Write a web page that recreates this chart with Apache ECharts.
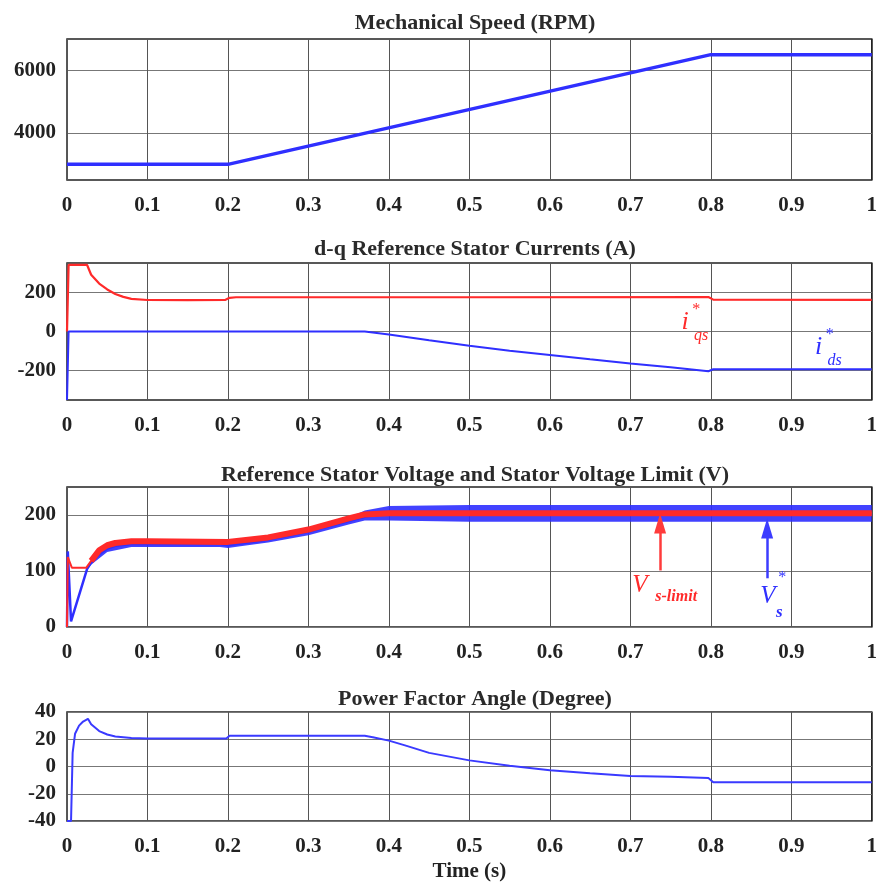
<!DOCTYPE html>
<html><head><meta charset="utf-8">
<script src="https://cdn.jsdelivr.net/npm/echarts@6/dist/echarts.min.js"></script>
<style>html,body{margin:0;padding:0;background:#fff}#c{width:880px;height:885px}</style>
</head><body><div id="c"></div>
<script>
// ---------- data ----------
const titles = ['Mechanical Speed (RPM)', 'd-q Reference Stator Currents (A)',
  'Reference Stator Voltage and Stator Voltage Limit (V)', 'Power Factor Angle (Degree)'];
const xTickLabels = ['0','0.1','0.2','0.3','0.4','0.5','0.6','0.7','0.8','0.9','1'];
const ySpeedTicks = [4000, 6000];
const yCurTicks = [-200, 0, 200];
const yVoltTicks = [0, 100, 200];
const yPfTicks = [-40, -20, 0, 20, 40];

const speedT = [0, 0.2, 0.8, 1];
const speedV = [3000, 3000, 6500, 6500];

const iqsT = [0, 0.002, 0.025, 0.03, 0.04, 0.05, 0.06, 0.07, 0.08, 0.1, 0.15, 0.197, 0.202, 0.21, 0.5, 0.797, 0.803, 1];
const iqsV = [0, 340, 340, 290, 245, 215, 192, 177, 167, 161, 160, 162, 172, 175, 175, 176, 163, 162];

const idsT = [0, 0.002, 0.37, 0.4, 0.45, 0.5, 0.55, 0.6, 0.65, 0.7, 0.75, 0.797, 0.803, 1];
const idsV = [-350, 0, 0, -15, -45, -73, -98, -120, -142, -163, -183, -203, -193, -193];

const vsT = [0, 0.001, 0.005, 0.025, 0.03, 0.04, 0.05, 0.06, 0.08, 0.1, 0.19, 0.2, 0.22, 0.25, 0.3, 0.35, 0.37, 0.4, 1];
const vsV = [0, 135, 10, 104, 115, 130, 140, 145, 148, 148, 148, 146, 150, 156, 170, 189, 197, 203, 203];
// envelope of the noisy V*s trace
const vsBandT  = [0.025, 0.03, 0.05, 0.08, 0.1, 0.19, 0.2, 0.22, 0.25, 0.3, 0.35, 0.37, 0.4, 0.5, 1];
const vsBandHi = [106, 119, 146, 153, 153, 153, 151, 155, 161, 176, 195, 208, 216, 218, 218];
const vsBandLo = [102, 111, 134, 143, 143, 143, 141, 145, 151, 164, 183, 190, 190, 188, 188];

const vlimT = [0, 0.001, 0.006, 0.024, 0.03, 0.04, 0.05, 0.06, 0.08, 0.1, 0.2, 0.25, 0.3, 0.35, 0.37, 0.4, 1];
const vlimV = [0, 125, 106, 106, 118, 137, 146, 150, 153, 153, 152, 160, 174, 194, 201, 203, 203];

const pfT = [0, 0.005, 0.007, 0.01, 0.015, 0.02, 0.026, 0.03, 0.04, 0.05, 0.06, 0.08, 0.1, 0.198, 0.202, 0.37, 0.38, 0.4, 0.42, 0.45, 0.5, 0.55, 0.6, 0.65, 0.7, 0.75, 0.797, 0.803, 1];
const pfV = [-40, -40, 10, 24, 30, 33, 35, 31, 26, 23.5, 22, 21, 20.5, 20.5, 22.5, 22.5, 21.5, 19, 15.5, 10, 4.5, 0.5, -2.7, -5, -7, -7.5, -8.5, -11.5, -11.5];

// ---------- helpers ----------
const zip = (t, v) => t.map((x, i) => [x, v[i]]);
const FONT = '"Liberation Serif", "Times New Roman", serif';
const RED = '#ff2a2a', BLUE = '#2f2fff';
const grids = [
  {top: 39, height: 141},
  {top: 263, height: 137},
  {top: 487, height: 140},
  {top: 712, height: 109}
];
const titleTops = [7, 233, 459, 683];

function xAxis(i) {
  return {
    type: 'value', gridIndex: i, min: 0, max: 1, interval: 0.1,
    axisLine: {show: false},
    axisTick: {show: false},
    splitLine: {show: true, lineStyle: {color: '#555', width: 1}},
    axisLabel: {
      margin: 15, color: '#222', fontFamily: FONT, fontWeight: 'bold', fontSize: 21,
      formatter: v => xTickLabels[Math.round(v * 10)]
    },
    name: i === 3 ? 'Time (s)' : '',
    nameLocation: 'middle', nameGap: 40,
    nameTextStyle: {color: '#222', fontFamily: FONT, fontWeight: 'bold', fontSize: 21}
  };
}
function yAxis(i, min, max, ticks) {
  return {
    type: 'value', gridIndex: i, min: min, max: max,
    axisLine: {show: false},
    axisTick: {show: false, customValues: ticks},
    splitLine: {show: true, lineStyle: {color: '#777', width: 1.2}},
    axisLabel: {
      customValues: ticks, margin: 11, color: '#222', fontFamily: FONT, fontWeight: 'bold', fontSize: 21,
      formatter: v => String(v)
    }
  };
}
function txt(coord, text, color, size, weight) {
  return {
    coord: coord, symbol: 'circle', symbolSize: 1, itemStyle: {color: 'rgba(0,0,0,0)'},
    label: {show: true, position: 'inside', formatter: text, color: color,
      fontFamily: FONT, fontStyle: 'italic', fontWeight: weight || 'normal', fontSize: size}
  };
}
function arrow(t, v0, v1, color) {
  return {silent: true, symbol: ['none', 'triangle'], symbolSize: [12, 20],
    label: {show: false}, lineStyle: {color: color, width: 2.5, type: 'solid'},
    data: [[{coord: [t, v0]}, {coord: [t, v1]}]]};
}

const option = {
  animation: false,
  backgroundColor: '#fff',
  title: titles.map((t, i) => ({
    text: t, left: 470, top: titleTops[i], textAlign: 'center',
    textStyle: {color: '#2a2a2a', fontFamily: FONT, fontWeight: 'bold', fontSize: 22}
  })),
  grid: grids.map(g => ({left: 67, right: 6, top: g.top, height: g.height,
    show: true, borderColor: '#222', borderWidth: 1.5, backgroundColor: 'transparent'})),
  xAxis: [0, 1, 2, 3].map(xAxis),
  yAxis: [
    yAxis(0, 2500, 7000, ySpeedTicks),
    yAxis(1, -350, 350, yCurTicks),
    yAxis(2, 0, 250, yVoltTicks),
    yAxis(3, -40, 40, yPfTicks)
  ],
  series: [
    {type: 'line', xAxisIndex: 0, yAxisIndex: 0, data: zip(speedT, speedV), showSymbol: false,
      lineStyle: {color: BLUE, width: 3.5}, z: 5},
    {type: 'line', xAxisIndex: 1, yAxisIndex: 1, data: zip(iqsT, iqsV), showSymbol: false,
      lineStyle: {color: RED, width: 2.2}, z: 5,
      markPoint: {silent: true, data: [
        txt([0.768, 50], 'i', RED, 26),
        txt([0.781, 110], '*', RED, 16),
        txt([0.788, -22], 'qs', RED, 16)
      ]}},
    {type: 'line', xAxisIndex: 1, yAxisIndex: 1, data: zip(idsT, idsV), showSymbol: false,
      lineStyle: {color: BLUE, width: 2}, z: 5,
      markPoint: {silent: true, data: [
        txt([0.934, -80], 'i', BLUE, 26),
        txt([0.947, -18], '*', BLUE, 16),
        txt([0.954, -148], 'ds', BLUE, 16)
      ]}},
    {type: 'custom', xAxisIndex: 2, yAxisIndex: 2, coordinateSystem: 'cartesian2d', z: 3,
      data: vsBandT.map((t, i) => [t, vsBandLo[i], vsBandHi[i]]),
      encode: {x: 0, y: [1, 2]},
      renderItem: (params, api) => {
        if (params.dataIndex !== 0) return null;
        const up = vsBandT.map((t, i) => api.coord([t, vsBandHi[i]]));
        const lo = vsBandT.map((t, i) => api.coord([t, vsBandLo[i]])).reverse();
        return {type: 'polygon', shape: {points: up.concat(lo)}, style: {fill: 'rgba(45,45,255,0.9)'}};
      }},
    {type: 'line', xAxisIndex: 2, yAxisIndex: 2, data: zip(vsT, vsV), showSymbol: false,
      lineStyle: {color: BLUE, width: 2.5}, z: 4,
      markLine: arrow(0.87, 87, 176, '#3c3cff'),
      markPoint: {silent: true, data: [
        txt([0.871, 55], 'V', BLUE, 25),
        txt([0.888, 88], '*', BLUE, 16),
        txt([0.885, 26], 's', BLUE, 17, 'bold')
      ]}},
    {type: 'line', xAxisIndex: 2, yAxisIndex: 2, data: zip(vlimT, vlimV), showSymbol: false,
      lineStyle: {color: RED, width: 2}, z: 6},
    {type: 'line', xAxisIndex: 2, yAxisIndex: 2, data: zip(vlimT, vlimV).slice(4), showSymbol: false,
      lineStyle: {color: RED, width: 6}, z: 6,
      markLine: arrow(0.737, 101, 185, '#ff3b3b'),
      markPoint: {silent: true, data: [
        txt([0.712, 75], 'V', RED, 25),
        txt([0.757, 53], 's-limit', RED, 16, 'bold')
      ]}},
    {type: 'line', xAxisIndex: 3, yAxisIndex: 3, data: zip(pfT, pfV), showSymbol: false,
      lineStyle: {color: '#3a3aff', width: 2}, z: 5}
  ]
};
const chart = echarts.init(document.getElementById('c'), null, {renderer: 'canvas'});
chart.setOption(option);
</script>
</body></html>
